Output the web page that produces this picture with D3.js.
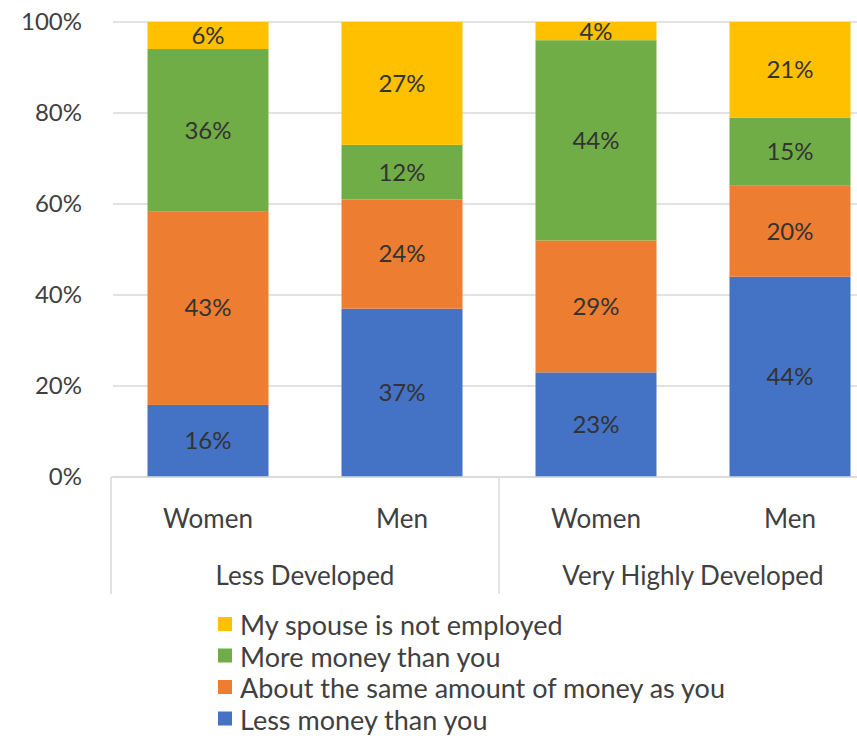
<!DOCTYPE html>
<html>
<head>
<meta charset="utf-8">
<script src="https://cdn.jsdelivr.net/npm/d3@7"></script>
<style>
  body { margin: 0; background: #fff; }
  svg { display: block; }
</style>
</head>
<body>
<svg id="chart"></svg>
<script>
// groups and bars, left to right
var groups = ["Less Developed", "Very Highly Developed"];
var bars = ["Women", "Men", "Women", "Men"];
var barGroup = [0, 0, 1, 1];

// series, bottom to top
var seriesNames = ["Less money than you", "About the same amount of money as you", "More money than you", "My spouse is not employed"];
var lessMoney = [16, 37, 23, 44];
var sameMoney = [43, 24, 29, 20];
var moreMoney = [36, 12, 44, 15];
var notEmployed = [6, 27, 4, 21];
var seriesColors = ["#4472C4", "#ED7D31", "#70AD47", "#FFC000"];

var yTicks = [0, 0.2, 0.4, 0.6, 0.8, 1];

function drawChart() {
    var width = 857,
        height = 738;
    var svg = d3.select("#chart")
        .attr("width", width)
        .attr("height", height);

    var font = "Lato, 'Open Sans', sans-serif";
    var textColor = "#404040";

    // plot area runs off the right side of the picture
    var x0 = 111, x1 = 887, yTop = 22, yBot = 477;

    var table = bars.map((b, i) => ({
        key: i,
        s0: lessMoney[i], s1: sameMoney[i], s2: moreMoney[i], s3: notEmployed[i]
    }));
    var stack = d3.stack()
        .keys(["s0", "s1", "s2", "s3"])
        .offset(d3.stackOffsetExpand);
    var layers = stack(table);
    var raw = [lessMoney, sameMoney, moreMoney, notEmployed];

    var x = d3.scaleBand()
        .domain(d3.range(bars.length))
        .range([x0, x1])
        .paddingInner(73 / 194)
        .paddingOuter(73 / 194 / 2);
    var y = d3.scaleLinear().domain([0, 1]).range([yBot, yTop]);

    // gridlines
    svg.append("g")
        .selectAll("line")
        .data(yTicks)
        .enter()
        .append("line")
        .attr("x1", x0 + 2).attr("x2", width)
        .attr("y1", d => y(d)).attr("y2", d => y(d))
        .attr("stroke", "#d9d9d9")
        .attr("stroke-width", 1.5);

    // y axis labels
    svg.append("g")
        .selectAll("text")
        .data(yTicks)
        .enter()
        .append("text")
        .attr("x", 82)
        .attr("y", d => y(d))
        .attr("dy", "0.35em")
        .attr("text-anchor", "end")
        .attr("font-family", font)
        .attr("font-size", 24)
        .attr("fill", textColor)
        .text(d3.format(".0%"));

    // bars
    var layerG = svg.append("g")
        .selectAll("g")
        .data(layers)
        .enter()
        .append("g")
        .attr("fill", (d, i) => seriesColors[i]);

    layerG.selectAll("rect")
        .data(d => d)
        .enter()
        .append("rect")
        .attr("x", d => x(d.data.key))
        .attr("width", x.bandwidth())
        .attr("y", d => y(d[1]))
        .attr("height", d => y(d[0]) - y(d[1]));

    // data labels
    layers.forEach((layer, si) => {
        svg.append("g")
            .selectAll("text")
            .data(layer)
            .enter()
            .append("text")
            .attr("x", d => x(d.data.key) + x.bandwidth() / 2)
            .attr("y", d => (y(d[0]) + y(d[1])) / 2)
            .attr("dy", "0.35em")
            .attr("text-anchor", "middle")
            .attr("font-family", font)
            .attr("font-size", 24)
            .attr("fill", "#333")
            .text((d, i) => raw[si][i] + "%");
    });

    // category axis lines and separators
    var step = x.step();
    svg.append("line")
        .attr("x1", x0).attr("x2", width)
        .attr("y1", yBot).attr("y2", yBot)
        .attr("stroke", "#d9d9d9").attr("stroke-width", 1.5);
    [x0, x0 + 2 * step].forEach(sx => {
        svg.append("line")
            .attr("x1", sx).attr("x2", sx)
            .attr("y1", yBot).attr("y2", 594)
            .attr("stroke", "#d9d9d9").attr("stroke-width", 1.5);
    });

    // bar labels
    svg.append("g")
        .selectAll("text")
        .data(bars)
        .enter()
        .append("text")
        .attr("x", (d, i) => x(i) + x.bandwidth() / 2)
        .attr("y", 519)
        .attr("dy", "0.35em")
        .attr("text-anchor", "middle")
        .attr("font-family", font)
        .attr("font-size", 26)
        .attr("fill", textColor)
        .text(d => d);

    // group labels
    svg.append("g")
        .selectAll("text")
        .data(groups)
        .enter()
        .append("text")
        .attr("x", (d, gi) => {
            var idx = d3.range(bars.length).filter(i => barGroup[i] === gi);
            return (x(idx[0]) + x(idx[idx.length - 1]) + x.bandwidth()) / 2;
        })
        .attr("y", 576)
        .attr("dy", "0.35em")
        .attr("text-anchor", "middle")
        .attr("font-family", font)
        .attr("font-size", 26)
        .attr("fill", textColor)
        .text(d => d);

    // legend, top entry first
    var legendOrder = [3, 2, 1, 0];
    var legend = svg.append("g")
        .selectAll("g")
        .data(legendOrder)
        .enter()
        .append("g")
        .attr("transform", (d, i) => `translate(218, ${626 + i * 31.5})`);
    legend.append("rect")
        .attr("x", 0).attr("y", -9)
        .attr("width", 14).attr("height", 14)
        .attr("fill", d => seriesColors[d]);
    legend.append("text")
        .attr("x", 22)
        .attr("dy", "0.35em")
        .attr("font-family", font)
        .attr("font-size", 27)
        .attr("fill", textColor)
        .text(d => seriesNames[d]);
}

drawChart();
</script>
</body>
</html>
